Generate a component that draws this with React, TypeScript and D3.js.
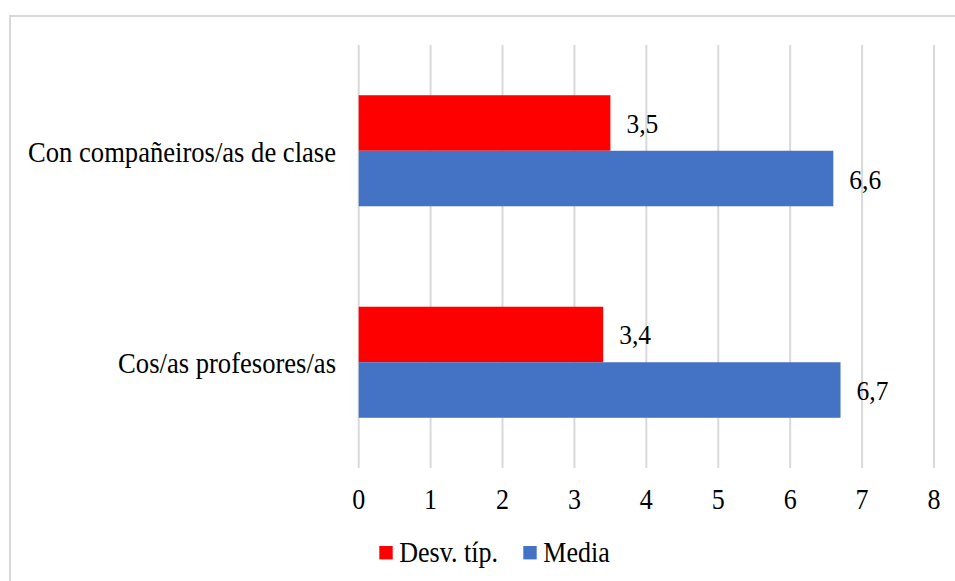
import React from "react";
import * as d3 from "d3";

const categories = ["Con compañeiros/as de clase", "Cos/as profesores/as"];
const seriesNames = ["Desv. típ.", "Media"];
const desvValues = [3.5, 3.4];
const mediaValues = [6.6, 6.7];
const tickValues = [0, 1, 2, 3, 4, 5, 6, 7, 8];

const colors = ["#ff0000", "#4472c4"];
const W = 955;
const H = 581;
const FONT = "Liberation Serif, Tinos, Times New Roman, DejaVu Serif, serif";

function T(props: { x: number; y: number; size: number; anchor?: string; children: React.ReactNode }) {
  return (
    <g transform={`translate(${props.x},${props.y}) scale(1,1.1)`}>
      <text x={0} y={0} style={{ fontFamily: FONT }} fontSize={props.size} textAnchor={props.anchor || "start"} fill="#000">
        {props.children}
      </text>
    </g>
  );
}

export default function App() {
  const x = d3.scaleLinear().domain([0, 8]).range([358.7, 934]);
  const y = d3.scaleBand<string>().domain(categories).range([45, 468]).paddingInner(0.475).paddingOuter(0.2375);
  const inner = d3.scaleBand<string>().domain(seriesNames).range([0, y.bandwidth()]).padding(0);
  const seriesValues = [desvValues, mediaValues];
  const fmt = (v: number) => v.toFixed(1).replace(".", ",");

  return (
    <svg width={W} height={H} style={{ position: "absolute", left: 0, top: 0, background: "#fff", fontFamily: FONT }}>
      <rect x={10} y={16} width={W + 20} height={H + 20} fill="#fff" stroke="#d9d9d9" strokeWidth={2} />
      {tickValues.map((t) => (
        <line key={"g" + t} x1={x(t)} x2={x(t)} y1={45} y2={468} stroke="#d9d9d9" strokeWidth={2} />
      ))}
      {tickValues.map((t) => (
        <T key={"t" + t} x={x(t)} y={509} size={26} anchor="middle">
          {t}
        </T>
      ))}
      {categories.map((c, ci) => (
        <g key={c}>
          <T x={336} y={(y(c) as number) + y.bandwidth() / 2 + 11} size={26.6} anchor="end">
            {c}
          </T>
          {seriesNames.map((s, si) => {
            const v = seriesValues[si][ci];
            const by = (y(c) as number) + (inner(s) as number);
            return (
              <g key={s}>
                <rect x={x(0)} y={by} width={x(v) - x(0)} height={inner.bandwidth()} fill={colors[si]} />
                <T x={x(v) + 16} y={by + inner.bandwidth() / 2 + 10} size={25.5}>
                  {fmt(v)}
                </T>
              </g>
            );
          })}
        </g>
      ))}
      {seriesNames.map((s, si) => {
        const lx = si === 0 ? 379.3 : 523.3;
        return (
          <g key={"l" + s}>
            <rect x={lx} y={546} width={13.4} height={13.4} fill={colors[si]} />
            <T x={lx + 20} y={561.5} size={26}>
              {s}
            </T>
          </g>
        );
      })}
    </svg>
  );
}
